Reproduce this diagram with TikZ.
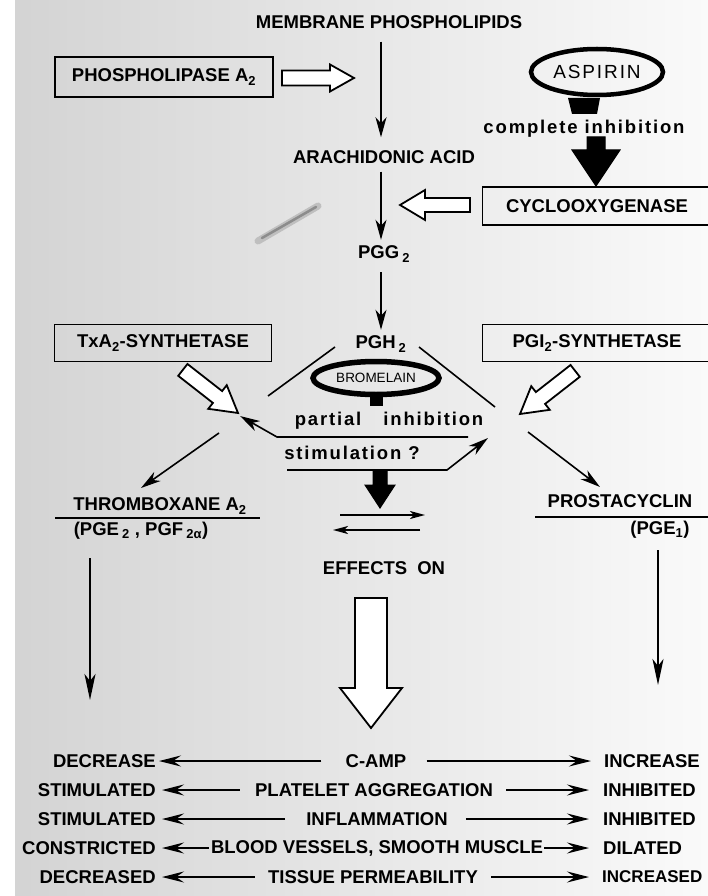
\documentclass[tikz,border=0pt]{standalone}
\usepackage{fontspec}
\setmainfont{Liberation Sans}
\newfontfamily\lcfont[LetterSpace=10]{Liberation Sans}
\usetikzlibrary{arrows.meta,shapes.geometric}
% #1 style, #2 tip, #3 angle, #4 total length, #5 head length, #6 head width, #7 shaft width
\newcommand\blockarrow[7]{%
  \begin{scope}[shift={#2}, rotate=#3]
    \path[#1] (0,0) -- (-#5,#6/2) -- (-#5,#7/2) -- (-#4,#7/2) -- (-#4,-#7/2)
      -- (-#5,-#7/2) -- (-#5,-#6/2) -- cycle;
  \end{scope}}
\begin{document}
\begin{tikzpicture}[x=1pt,y=-1pt,
  lbl/.style={inner sep=0pt, font=\fontsize{18.5}{20}\selectfont\bfseries},
  lc/.style={inner sep=0pt, font=\lcfont\fontsize{18.5}{20}\selectfont\bfseries},
  box/.style={lbl, draw, line width=1.8pt},
  arr/.style={line width=1.6pt, -{Stealth[length=20pt,width=11pt,inset=6pt]}},
  arrB/.style={line width=2pt, -{Stealth[length=22pt,width=11pt,inset=8pt]}},
  arrV/.style={line width=2.2pt, -{Stealth[length=26pt,width=11pt,inset=7pt]}},
  arrE/.style={line width=1.6pt, -{Stealth[length=15pt,width=8pt,inset=4pt]}},
  ln/.style={line width=1.6pt},
  hollow/.style={draw, fill=white, line width=1.8pt, line join=miter},
  solid/.style={draw, fill=black, line width=1pt, line join=miter}]
\useasboundingbox (0,0) rectangle (708,896);
\clip (0,0) rectangle (708,896);
\fill[white] (0,0) rectangle (708,896);
\shade[left color=black!17, middle color=black!6, right color=black!2] (15,0) rectangle (708,896);
\draw[black!25, line width=7pt, line cap=round] (258,241) -- (318,206);
\draw[black!45, line width=2.5pt, line cap=round] (262,238) -- (316,207);

% ---------- top part ----------
\node[lbl] (mp) at (389,22) {MEMBRANE PHOSPHOLIPIDS};
\node[box, minimum width=218pt, minimum height=40pt] (pla) at (164,77) {PHOSPHOLIPASE A\textsubscript{2}};
\node[draw, ellipse, line width=4.5pt, minimum width=132pt, minimum height=46pt, inner sep=0pt] (asp) at (597,72) {\lcfont\fontsize{19}{20}\selectfont ASPIRIN};
\node[lc] (ci) at (584,129) {complete inhibition};
\node[lbl] (aa) at (384,157) {ARACHIDONIC ACID};
\node[box, minimum width=229pt, minimum height=38pt] (cox) at (597,206) {CYCLOOXYGENASE};
\node[lbl] (pgg) at (384,254) {PGG\,\textsubscript{2}};
\node[box, minimum width=217pt, minimum height=37pt] (txa) at (163,343) {TxA\textsubscript{2}-SYNTHETASE};
\node[lbl] (pgh) at (381,344) {PGH\,\textsubscript{2}};
\node[box, minimum width=229pt, minimum height=37pt] (pgi) at (597,343) {PGI\textsubscript{2}-SYNTHETASE};
\node[draw, ellipse, line width=5.5pt, minimum width=126pt, minimum height=33pt, inner sep=0pt] (brom) at (376,378) {\fontsize{13.5}{14}\selectfont BROMELAIN};
\node[lc] (pinh) at (389,421) {partial\hspace{22pt}inhibition};
\node[lc] (stim) at (352,453) {stimulation ?};

% main chain
\draw[arr, shorten <=13pt, shorten >=13pt] (mp.south -| pgh) -- (aa.north -| pgh);
\draw[arr, shorten <=8pt, shorten >=6pt] (aa.south -| pgh) -- (pgg.north -| pgh);
\draw[arr, shorten <=10pt, shorten >=6pt] (pgg.south -| pgh) -- (pgh.north);

% block arrows (enzymes)
\blockarrow{hollow}{(354,78)}{0}{72}{24}{27}{15}
\blockarrow{hollow}{(400,205)}{180}{70}{25}{30}{14}
\blockarrow{hollow}{(238,413)}{-38}{70}{26}{30}{15}
\blockarrow{hollow}{(520,414)}{218}{70}{26}{30}{15}

% aspirin inhibition
\fill (568,98) -- (600,98) -- (597,114) -- (572,114) -- cycle;
\blockarrow{solid}{(596,186)}{-90}{49}{36}{48}{18}

% PGH2 branching
\coordinate (jl) at (240,416);
\coordinate (jr) at (488,438);
\draw[ln] (335,347) -- (268,396);
\draw[ln] (419,347) -- (495,407);
\fill (370,394) rectangle (383,406);
\draw[arr] (468,437) -- (277,437) -- (jl);
\draw[arr] (287,470) -- (447,470) -- (jr);
\draw[arr] (219,433) -- (141,488);
\draw[arr] (528,432) -- (600,487);
\blockarrow{solid}{(380,508)}{-90}{38}{23}{30}{14}
\draw[arrE] (340,515) -- (425,515);
\draw[arrE] (420,530) -- (333,530);

% products
\node[lbl] (thx) at (160,506) {THROMBOXANE A\textsubscript{2}};
\draw[ln] (55,518) -- (260,518);
\node[lbl] (pge) at (141,531) {(PGE\,\textsubscript{2} , PGF\,\textsubscript{2α})};
\node[lbl] (pcy) at (620,501) {PROSTACYCLIN};
\draw[ln] (535,517) -- (712,517);
\node[lbl] (pge1) at (660,530) {(PGE\textsubscript{1})};
\node[lbl] (eff) at (384,568) {EFFECTS\hspace{10pt}ON};

\draw[arrV] (90,558) -- (90,700);
\draw[arrV] (658,550) -- (658,685);
\blockarrow{hollow}{(371,728)}{-90}{130}{40}{62}{32}

% ---------- effects table ----------
\node[lbl, anchor=east] (l1) at (156,761) {DECREASE};
\node[lbl] (c1) at (376,761) {C-AMP};
\node[lbl, anchor=west] (r1) at (604,761) {INCREASE};
\node[lbl, anchor=east] (l2) at (156,790) {STIMULATED};
\node[lbl] (c2) at (374,790) {PLATELET AGGREGATION};
\node[lbl, anchor=west] (r2) at (603,790) {INHIBITED};
\node[lbl, anchor=east] (l3) at (156,819) {STIMULATED};
\node[lbl] (c3) at (377,819) {INFLAMMATION};
\node[lbl, anchor=west] (r3) at (603,819) {INHIBITED};
\node[lbl, anchor=east] (l4) at (156,848) {CONSTRICTED};
\node[lbl] (c4) at (377,848) {BLOOD VESSELS, SMOOTH MUSCLE};
\node[lbl, anchor=west] (r4) at (603,848) {DILATED};
\node[lbl, anchor=east] (l5) at (156,877) {DECREASED};
\node[lbl] (c5) at (373,877) {TISSUE PERMEABILITY};
\node[lbl, anchor=west, font=\fontsize{17}{20}\selectfont\bfseries] (r5) at (602,877) {INCREASED};

\draw[arrB, shorten <=24pt, shorten >=3pt] (c1) -- (l1);
\draw[arrB, shorten <=20pt, shorten >=13pt] (c1) -- (r1);
\draw[arrB, shorten <=15pt, shorten >=6pt] (c2) -- (l2);
\draw[arrB, shorten <=13pt, shorten >=14pt] (c2) -- (r2);
\draw[arrB, shorten <=21pt, shorten >=6pt] (c3) -- (l3);
\draw[arrB, shorten <=18pt, shorten >=14pt] (c3) -- (r3);
\draw[arrB, shorten <=2pt, shorten >=6pt] (c4) -- (l4);
\draw[arrB, shorten <=1pt, shorten >=14pt] (c4) -- (r4);
\draw[arrB, shorten <=13pt, shorten >=6pt] (c5) -- (l5);
\draw[arrB, shorten <=13pt, shorten >=13pt] (c5) -- (r5);
\end{tikzpicture}
\end{document}
